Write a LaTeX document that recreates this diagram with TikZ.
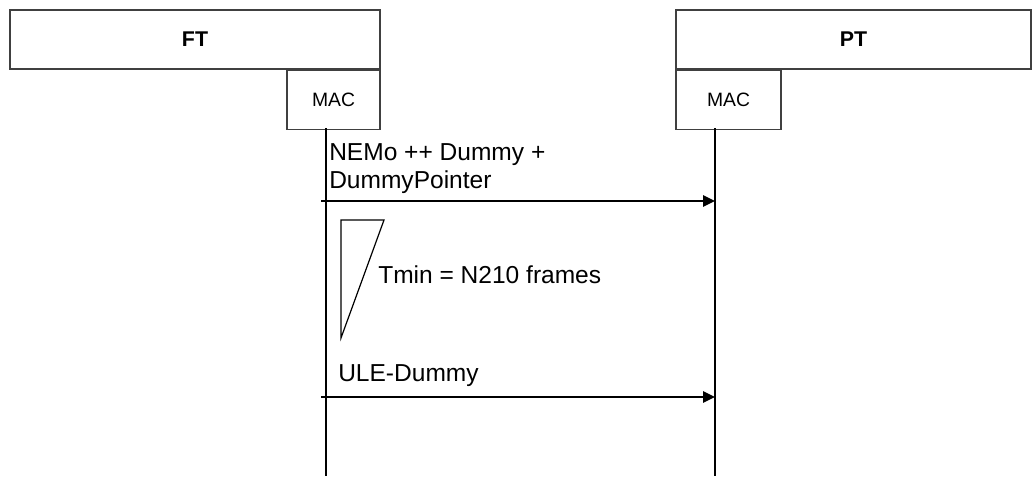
\documentclass[tikz,border=0pt]{standalone}
\usepackage{fontspec}
\setmainfont{Liberation Sans}
\usepackage{xcolor}
\usetikzlibrary{arrows.meta,positioning}
\definecolor{ink}{HTML}{000000}
\definecolor{boxgray}{HTML}{404040}
\tikzset{
  entity/.style={rectangle, draw=boxgray, line width=0.8pt, minimum height=44.25pt, inner sep=0pt, font=\fontsize{16}{19}\selectfont\bfseries},
  layer/.style={rectangle, draw=boxgray, line width=0.8pt, minimum height=44.25pt, inner sep=0pt, font=\fontsize{14.5}{17}\selectfont},
  lifeline/.style={draw=ink, line width=0.9pt},
  msg/.style={-{Triangle[length=9pt,width=8.5pt]}, draw=ink, line width=1.2pt},
  msglabel/.style={anchor=base west, align=left, inner sep=0pt, font=\fontsize{18.4}{21}\selectfont}
}

\begin{document}
\begin{tikzpicture}[x=0.75pt, y=-0.75pt]
  \useasboundingbox (0,0) rectangle (1032,476);
  \node[entity, minimum width=277.5pt] (ft) at (195,39.5) {FT};
  \node[entity, minimum width=266.25pt] (pt) at (853.5,39.5) {PT};
  \node[layer, minimum width=69.75pt, anchor=north east] (ftmac) at (ft.south east) {MAC};
  \node[layer, minimum width=78.75pt, anchor=north west] (ptmac) at (pt.south west) {MAC};

  \coordinate (fttop) at (326,128);
  \coordinate (ftend) at (326,476);
  \coordinate (pttop) at (715,128);
  \coordinate (ptend) at (715,476);
  \draw[lifeline] (fttop) -- (ftend);
  \draw[lifeline] (pttop) -- (ptend);

  \coordinate (nemoa) at (321,201);
  \coordinate (nemob) at (715,201);
  \coordinate (ulea) at (321,397);
  \coordinate (uleb) at (715,397);
  \draw[msg] (nemoa) -- (nemob);
  \draw[msg] (ulea) -- (uleb);
  \node[msglabel] (nemo) at (329,188) {NEMo ++ Dummy +\\DummyPointer};
  \node[msglabel] (ule) at (338,381) {ULE-Dummy};

  % timer
  \coordinate (tma) at (341,220);
  \coordinate (tmb) at (384,220);
  \coordinate (tmc) at (341,338);
  \draw[ink, line width=0.9pt] (tma) -- (tmb) -- (tmc) -- cycle;
  \node[msglabel] (tmin) at (378,283) {Tmin = N210 frames};
\end{tikzpicture}
\end{document}
